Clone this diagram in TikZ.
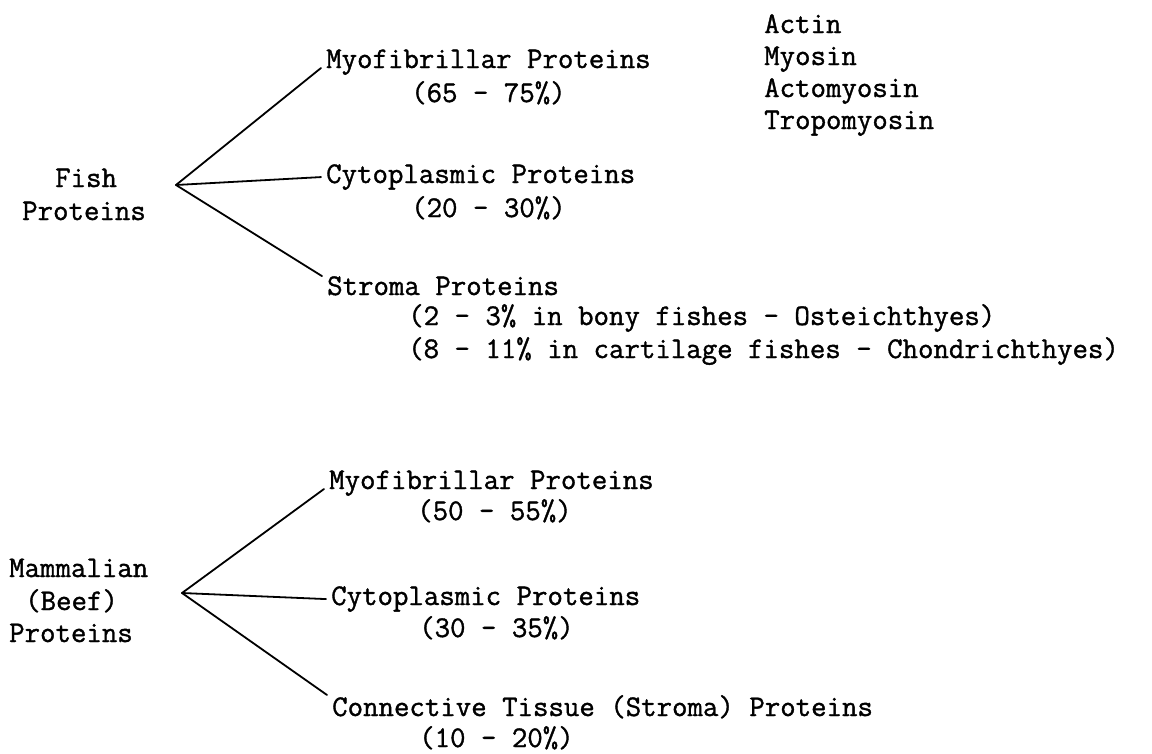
\documentclass[tikz,border=0pt]{standalone}
\usepackage{fontspec}
\setmonofont{Latin Modern Mono}[FakeBold=1.2]
\usepackage{tikz}
\tikzset{
  typed/.style={font=\fontsize{30}{32}\selectfont\ttfamily,inner sep=0pt,anchor=base west},
  entry/.style={typed,inner xsep=5pt},
  branch/.style={line width=1.8pt,line cap=round}
}

\begin{document}
\begin{tikzpicture}[x=1pt,y=-1pt]
  \useasboundingbox (0,0) rectangle (1152,753);

  % fish proteins
  \node[typed] (fish) at (55,187) {Fish};
  \node[typed] (fishprot) at (22,220) {Proteins};
  \coordinate (fbr) at (176,185);

  \node[entry] (fmyo) at (321,68) {Myofibrillar Proteins};
  \node[typed] (fmyopct) at (411,102) {(65 - 75\%)};

  \foreach \y/\n/\lab in {33/a/Actin,65/b/Myosin,97/c/Actomyosin,129/d/Tropomyosin}{
    \node[typed] (myo\n) at (764,\y) {\lab};
  }

  \node[entry] (fcyto) at (321,183) {Cytoplasmic Proteins};
  \node[typed] (fcytopct) at (411,217) {(20 - 30\%)};

  \node[entry] (fstro) at (322,295) {Stroma Proteins};
  \node[typed] (fstrobony) at (408,325) {(2 - 3\% in bony fishes - Osteichthyes)};
  \node[typed] (fstrocart) at (408,358) {(8 - 11\% in cartilage fishes - Chondrichthyes)};

  \draw[branch] (fbr)--(fmyo.base west);
  \draw[branch] (fbr)--(fcyto.west);
  \draw[branch] (fbr)--(fstro.north west);

  % mammalian proteins
  \node[typed] (mam) at (9,577) {Mammalian};
  \node[typed] (beef) at (25,610) {(Beef)};
  \node[typed] (mamprot) at (9,642) {Proteins};
  \coordinate (mbr) at (182,593);

  \node[entry] (mmyo) at (324,489) {Myofibrillar Proteins};
  \node[typed] (mmyopct) at (417,520) {(50 - 55\%)};

  \node[entry] (mcyto) at (326,605) {Cytoplasmic Proteins};
  \node[typed] (mcytopct) at (419,637) {(30 - 35\%)};

  \node[entry] (mconn) at (327,716) {Connective Tissue (Stroma) Proteins};
  \node[typed] (mconnpct) at (419,747) {(10 - 20\%)};

  \draw[branch] (mbr)--(mmyo.base west);
  \draw[branch] (mbr)--(mcyto.west);
  \draw[branch] (mbr)--(mconn.north west);
\end{tikzpicture}
\end{document}
